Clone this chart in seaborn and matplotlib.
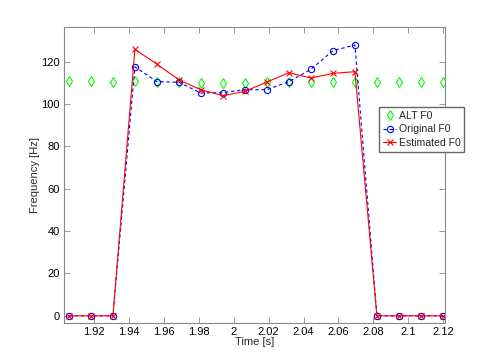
import matplotlib
matplotlib.use("Agg")
import matplotlib.pyplot as plt
import seaborn as sns
import numpy as np
from matplotlib.ticker import FuncFormatter

sns.set_style("white")
plt.rcParams['font.family'] = ['Liberation Sans', 'DejaVu Sans']

time_s = [1.9056, 1.9182, 1.9308, 1.9434, 1.9560, 1.9686, 1.9812, 1.9938, 2.0064,
          2.0190, 2.0316, 2.0442, 2.0568, 2.0694, 2.0820, 2.0946, 2.1072, 2.1198]
alt_f0 = [110.9, 110.9, 110.6, 110.9, 110.4, 110.3, 110.0, 110.0, 110.0,
          110.6, 110.6, 110.6, 110.6, 110.3, 110.3, 110.3, 110.3, 110.3]
orig_f0 = [0, 0, 0, 117.6, 110.6, 110.3, 105.2, 105.4, 106.8,
           106.8, 110.6, 116.4, 125.2, 127.9, 0, 0, 0, 0]
est_f0 = [0, 0, 0, 125.8, 118.9, 111.4, 106.8, 104.0, 106.0,
          110.4, 114.8, 112.3, 114.5, 115.3, 0, 0, 0, 0]
x_ticks = [1.92, 1.94, 1.96, 1.98, 2.00, 2.02, 2.04, 2.06, 2.08, 2.10, 2.12]
y_ticks = [0, 20, 40, 60, 80, 100, 120]

fig = plt.figure(figsize=(4.92, 3.63), dpi=100)
ax = fig.add_axes([64/492, 40/363, 381/492, 296/363])

sns.lineplot(x=time_s, y=alt_f0, ax=ax, linestyle='none', marker='d',
             markersize=5, markerfacecolor='none', markeredgecolor=(0, 1, 0),
             markeredgewidth=0.8, color=(0, 1, 0), label='ALT F0')
sns.lineplot(x=time_s, y=orig_f0, ax=ax, linestyle='--', marker='o',
             markersize=4.5, markerfacecolor='none', markeredgecolor='#0000ff',
             markeredgewidth=0.8, color='#0000ff', linewidth=0.8,
             label='Original F0')
sns.lineplot(x=time_s, y=est_f0, ax=ax, linestyle='-', marker='x',
             markersize=4, markeredgecolor='#ff0000', markeredgewidth=0.8,
             color='#ff0000', linewidth=0.8, label='Estimated F0')
for ln in ax.get_lines():
    if ln.get_label() == 'Original F0':
        ln.set_linestyle('--')
        ln.set_dashes([3, 2.5])

ax.set_xlim(1.9028, 2.121)
ax.set_ylim(-3.4, 136.4)
ax.set_xticks(x_ticks)
ax.set_yticks(y_ticks)
ax.xaxis.set_major_formatter(FuncFormatter(lambda v, p: '%g' % round(v, 4)))
ax.tick_params(direction='in', length=4, width=0.6, colors='#888888',
               labelcolor='black', labelsize=8, top=True, right=True,
               bottom=True, left=True, pad=3)
for sp in ax.spines.values():
    sp.set_color('#888888')
    sp.set_linewidth(0.8)
ax.set_xlabel('Time [s]', fontsize=8, labelpad=0)
ax.set_ylabel('Frequency [Hz]', fontsize=8, labelpad=1)

ax.legend(loc='upper left', bbox_to_anchor=(379/492, 1 - 107/363),
          bbox_transform=fig.transFigure, fontsize=7.6, frameon=True,
          fancybox=False, edgecolor='#666666', framealpha=1,
          borderpad=0.35, handlelength=1.3, handletextpad=0.2,
          labelspacing=0.35, borderaxespad=0)

fig.savefig('out.png', dpi=100)
